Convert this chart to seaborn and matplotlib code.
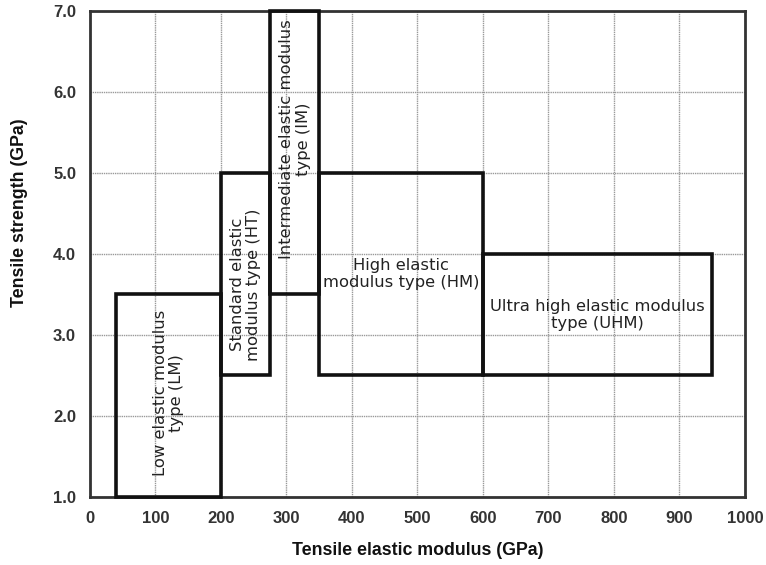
import matplotlib
matplotlib.use("Agg")
import matplotlib.pyplot as plt
import seaborn as sns
import numpy as np

# Data: carbon fibre classes (tensile modulus range, tensile strength range)
names = ["Low elastic modulus\ntype (LM)",
         "Standard elastic\nmodulus type (HT)",
         "Intermediate elastic modulus\ntype (IM)",
         "High elastic\nmodulus type (HM)",
         "Ultra high elastic modulus\ntype (UHM)"]
mod_lo = [40, 200, 275, 350, 600]
mod_hi = [200, 275, 350, 600, 950]
str_lo = [1.0, 2.5, 3.5, 2.5, 2.5]
str_hi = [3.5, 5.0, 7.0, 5.0, 4.0]
label_rot = [90, 90, 90, 0, 0]
label_y = [2.28, 3.62, 5.42, 3.75, 3.25]

x_ticks = list(range(0, 1001, 100))
y_ticks = [1.0, 2.0, 3.0, 4.0, 5.0, 6.0, 7.0]

sns.set_theme(style="whitegrid")
plt.rcParams['font.family'] = ['Liberation Sans', 'DejaVu Sans']

fig = plt.figure(figsize=(7.66, 5.65), dpi=100)
ax = fig.add_axes([0.1175, 0.121, 0.855, 0.859])

widths = [h - l for l, h in zip(mod_lo, mod_hi)]
heights = [h - l for l, h in zip(str_lo, str_hi)]
bars = ax.bar(mod_lo, heights, width=widths, bottom=str_lo, align="edge",
              fill=False, edgecolor="#111111", linewidth=2.6, zorder=3)
for b in bars:
    b.set_clip_on(False)

for n, lo, hi, ry, rot in zip(names, mod_lo, mod_hi, label_y, label_rot):
    ax.text((lo + hi) / 2, ry, n, rotation=rot, ha="center", va="center",
            fontsize=11.8, color="#222222", linespacing=1.15, zorder=4,
            family=["DejaVu Sans"])

ax.set_xlim(0, 1000)
ax.set_ylim(1.0, 7.0)
ax.set_xticks(x_ticks)
ax.set_yticks(y_ticks)
ax.set_yticklabels([f"{v:.1f}" for v in y_ticks])
ax.tick_params(axis="both", length=0, labelsize=12, labelcolor="#333333")
ax.tick_params(axis="x", pad=10)
ax.tick_params(axis="y", pad=10)
for lab in ax.get_xticklabels() + ax.get_yticklabels():
    lab.set_fontweight("bold")

ax.grid(True, color="#999999", linewidth=1.0, linestyle=(0, (1, 0.6)))
for s in ax.spines.values():
    s.set_visible(True)
    s.set_color("#333333")
    s.set_linewidth(2.0)
ax.set_facecolor("white")

ax.set_xlabel("Tensile elastic modulus (GPa)", fontsize=12.8, fontweight="bold",
              color="#111111")
ax.set_ylabel("Tensile strength (GPa)", fontsize=12.8, fontweight="bold",
              color="#111111")
ax.xaxis.set_label_coords(0.5, -0.093)
ax.yaxis.set_label_coords(-0.094, 0.586)

fig.savefig("out.png", dpi=100)
